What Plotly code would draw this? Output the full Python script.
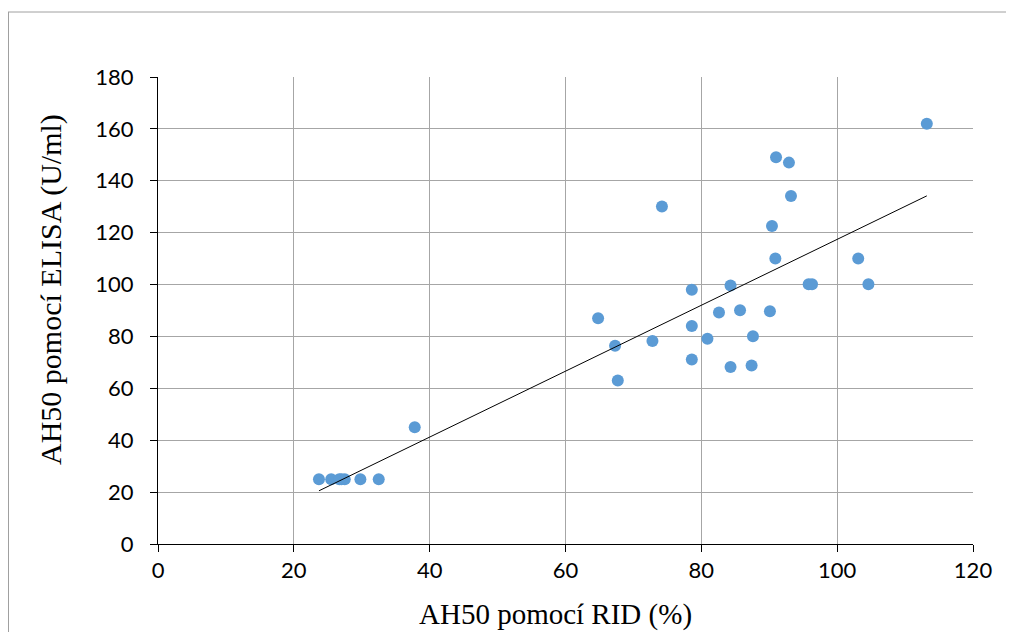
import numpy as np
import plotly.graph_objects as go

rid = [23.7, 25.5, 26.7, 27.0, 27.5, 29.8, 32.5, 37.8,
       64.8, 67.3, 67.7, 72.8, 74.2, 78.6, 78.6, 78.6, 80.9, 82.6, 84.3, 84.3,
       85.7, 87.4, 87.6, 90.1, 90.4, 90.9, 91.0, 92.9, 93.2, 95.8, 96.3,
       103.1, 104.6, 113.2]
elisa = [25, 25, 25, 25, 25, 25, 25, 45,
         87.0, 76.4, 63.0, 78.2, 130.1, 98.0, 84.0, 71.1, 79.1, 89.2, 99.6, 68.2,
         90.1, 68.8, 80.1, 89.7, 122.6, 110.0, 149.1, 147.0, 134.1, 100.1, 100.1,
         110.0, 100.1, 162.0]

x_title = "AH50 pomocí RID (%)"
y_title = "AH50 pomocí ELISA (U/ml)"

xa = np.array(rid)
ya = np.array(elisa)
k, q = np.polyfit(xa, ya, 1)
tx = np.array([xa.min(), xa.max()])
ty = k * tx + q

fig = go.Figure()
fig.add_trace(go.Scatter(x=rid, y=elisa, mode="markers",
                         marker=dict(color="#5B9BD5", size=12, line=dict(width=0)),
                         showlegend=False))
fig.add_trace(go.Scatter(x=tx, y=ty, mode="lines",
                         line=dict(color="black", width=1), showlegend=False))

axis_font = dict(family="Lato, Carlito, Liberation Sans, sans-serif", size=22, color="black")
serif = "Liberation Serif, Times New Roman, serif"

# page body has an 8px margin: figure coords = screen coords - 8
L, T, W, H = 150, 69, 815, 467
FW, FH = 1006, 624
px = lambda fx: (fx - L) / W
py = lambda fy: (T + H - fy) / H
border = dict(color="#a0a0a0", width=1)
fig.update_layout(
    width=FW, height=FH,
    margin=dict(l=L, r=FW - L - W, t=T, b=FH - T - H, autoexpand=False),
    paper_bgcolor="white", plot_bgcolor="white",
    xaxis=dict(range=[0, 120], tick0=0, dtick=20, showgrid=True, gridcolor="#a6a6a6",
               gridwidth=1, zeroline=False, showline=True, linecolor="black", linewidth=1,
               ticks="outside", ticklen=7, tickcolor="black", tickfont=axis_font),
    yaxis=dict(range=[0, 180], tick0=0, dtick=20, showgrid=True, gridcolor="#a6a6a6",
               gridwidth=1, zeroline=False, showline=True, linecolor="black", linewidth=1,
               ticks="outside", ticklen=7, tickcolor="black", tickfont=axis_font,
               ticklabelstandoff=12),
    annotations=[
        dict(text=x_title, xref="paper", yref="paper", x=px(547), y=py(606),
             xanchor="center", yanchor="middle", showarrow=False,
             font=dict(family=serif, size=29, color="black")),
        dict(text=y_title, xref="paper", yref="paper", x=px(43), y=py(282),
             xanchor="center", yanchor="middle", showarrow=False, textangle=-90,
             font=dict(family=serif, size=30, color="black")),
    ],
    shapes=[
        dict(type="line", xref="paper", yref="paper", x0=px(0.5), x1=px(0.5),
             y0=py(4), y1=py(FH + 20), line=border, layer="below"),
        dict(type="line", xref="paper", yref="paper", x0=px(0), x1=px(FW + 20),
             y0=py(4), y1=py(4), line=border, layer="below"),
    ],
)

fig.write_html("out.html")
